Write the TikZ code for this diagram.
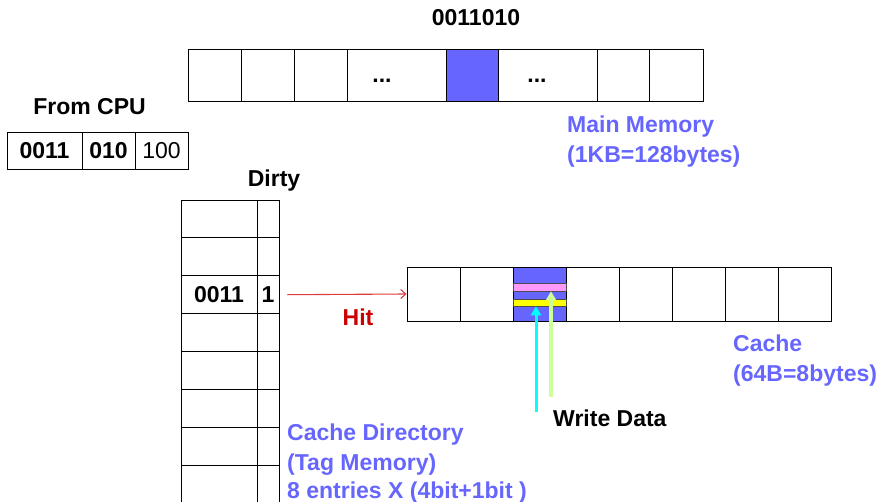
\documentclass[tikz,border=0pt]{standalone}
\usepackage{fontspec}
\setmainfont{Liberation Sans}
\usetikzlibrary{arrows.meta}
\definecolor{memblue}{RGB}{102,102,255}
\definecolor{hitred}{RGB}{204,0,0}
\definecolor{arrowred}{RGB}{220,60,60}
\definecolor{bandpink}{RGB}{255,153,255}
\definecolor{bandyellow}{RGB}{255,255,0}
\definecolor{wcyan}{RGB}{0,255,255}
\definecolor{wgreen}{RGB}{204,255,153}
\tikzset{
  lbl/.style={font=\fontsize{23}{28}\selectfont\bfseries, inner sep=0pt},
  bluelbl/.style={lbl, text=memblue, anchor=base west},
  cell/.style={draw=black, line width=0.9pt, inner sep=0pt, font=\fontsize{23}{28}\selectfont\bfseries},
  memcell/.style={cell, minimum height=52pt},
  cpucell/.style={cell, minimum height=37pt},
  tagcell/.style={cell, minimum width=76pt, minimum height=37.9pt},
  dirtycell/.style={cell, minimum width=22pt, minimum height=37.9pt},
  cachecell/.style={cell, minimum width=53.1pt, minimum height=54pt},
  band/.style={draw=black!70, line width=0.6pt, inner sep=0pt, minimum width=53.1pt},
  writearrow/.style={-{Triangle[length=9pt,width=10pt]}},
}
\begin{document}
\begin{tikzpicture}[x=1pt,y=-1pt]
\useasboundingbox (0,0) rectangle (885,502);

% main memory row
\node[lbl] (addr) at (476,18) {0011010};
\node[memcell, minimum width=53pt] (m1) at (214.5,75) {};
\node[memcell, minimum width=53pt] (m2) at (267.5,75) {};
\node[memcell, minimum width=53pt] (m3) at (320.5,75) {};
\node[memcell, minimum width=99pt] (m4) at (396.5,75) {};
\node[memcell, minimum width=52pt, fill=memblue] (m5) at (472,75) {};
\node[memcell, minimum width=99pt] (m6) at (547.5,75) {};
\node[memcell, minimum width=52pt] (m7) at (623,75) {};
\node[memcell, minimum width=54pt] (m8) at (676,75) {};
\node[lbl, anchor=base] (dots1) at (382,83) {...};
\node[lbl, anchor=base] (dots2) at (537,83) {...};
\node[bluelbl] (mm1) at (567,133) {Main Memory};
\node[bluelbl] (mm2) at (567,163) {(1KB=128bytes)};

% address from the CPU
\node[lbl] (cpu) at (89.5,106.5) {From CPU};
\node[cpucell, minimum width=75pt] (a1) at (44.5,150.5) {0011};
\node[cpucell, minimum width=53pt] (a2) at (108.5,150.5) {010};
\node[cpucell, minimum width=53pt, font=\fontsize{23}{28}\selectfont] (a3) at (161.5,150.5) {100};

% cache directory with dirty bits
\node[lbl] (dirty) at (274,181) {Dirty};
\foreach \i in {1,...,8} {
  \node[tagcell] (t\i) at (219,{200+37.9*(\i-0.5)}) {};
  \node[dirtycell] (d\i) at (268,{200+37.9*(\i-0.5)}) {};
}
\node[lbl] at (t3) {0011};
\node[lbl] at (d3) {1};
\node[bluelbl] (cd1) at (287,440) {Cache Directory};
\node[bluelbl] (cd2) at (287,470) {(Tag Memory)};
\node[bluelbl] (cd3) at (287,498) {8 entries X (4bit+1bit )};

% cache line
\foreach \i in {1,...,8} {
  \node[cachecell] (c\i) at ({407+53.1*(\i-0.5)},294) {};
}
\node[cachecell, fill=memblue] at (c3) {};
\node[band, fill=bandpink, minimum height=8pt] (pb) at ([yshift=7pt]c3.center) {};
\node[band, fill=bandyellow, minimum height=7pt] (yb) at ([yshift=-8.5pt]c3.center) {};
\node[bluelbl] (ca1) at (733,351) {Cache};
\node[bluelbl] (ca2) at (733,381) {(64B=8bytes)};

% hit path
\draw[arrowred, line width=1.1pt, shorten <=8pt, -{Straight Barb[length=5pt,width=9pt]}] (d3.east) -- (c1.west);
\node[lbl, text=hitred] (hit) at (358,317) {Hit};

% write data into the block
\coordinate (cyanfoot) at (536,412);
\coordinate (greenfoot) at (551,397);
\draw[writearrow, wcyan, line width=3pt] (cyanfoot) -- (cyanfoot |- yb.south);
\draw[writearrow, wgreen, line width=4pt] (greenfoot) -- (greenfoot |- pb.south);
\node[lbl, anchor=base west] (wd) at (553,426) {Write Data};
\end{tikzpicture}
\end{document}
